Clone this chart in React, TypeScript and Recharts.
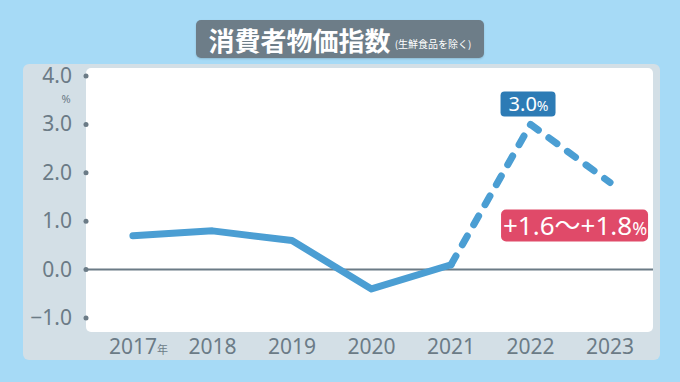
import { LineChart, Line, XAxis, YAxis, ReferenceLine, LabelList } from "recharts";

const years = [2017, 2018, 2019, 2020, 2021, 2022, 2023];
const actual = [0.7, 0.8, 0.6, -0.4, 0.1, null, null];
const forecast = [null, null, null, null, 0.1, 3.0, 1.8];
const pointLabels = ["", "", "", "", "", "3.0", "+1.6～+1.8"];
const yTicks = [-1, 0, 1, 2, 3, 4];

const data = years.map((year, i) => ({
  year,
  actual: actual[i],
  forecast: forecast[i],
  label: pointLabels[i],
}));

const FONT = '"Noto Sans", "Noto Sans CJK JP", sans-serif';
const GREY = "#6b7b86";
const LINE = "#4b9ed3";

const YTick = (props: any) => {
  const { x, y, payload } = props;
  const v = payload.value;
  const txt = v < 0 ? "\u2212" + Math.abs(v).toFixed(1) : v.toFixed(1);
  return (
    <g>
      <circle cx={x + 8} cy={y} r={2.5} fill={GREY} />
      <text x={x - 6} y={y + 7} textAnchor="end" fontSize={21} fill={GREY} fontFamily={FONT}>
        {txt}
      </text>
      {v === 4 && (
        <text x={x - 12} y={y + 27} textAnchor="middle" fontSize={11} fill={GREY} fontFamily={FONT}>
          %
        </text>
      )}
    </g>
  );
};

const XTick = (props: any) => {
  const { x, y, payload, index } = props;
  return (
    <g>
      <text x={x} y={y + 14} textAnchor="middle" fontSize={21} fill={GREY} fontFamily={FONT}>
        {payload.value}
      </text>
      {index === 0 && (
        <text x={x + 24} y={y + 14} fontSize={11} fill={GREY} fontFamily={FONT}>
          年
        </text>
      )}
    </g>
  );
};

const PointLabel = (props: any) => {
  const { x, y, value } = props;
  if (!value) return null;
  if (value === "3.0") {
    return (
      <g>
        <rect x={x - 30} y={y - 33} width={55} height={25} rx={4} fill="#2d7bb5" />
        <text x={x - 2} y={y - 13} textAnchor="middle" fill="#fff" fontFamily={FONT}>
          <tspan fontSize={20}>{value}</tspan>
          <tspan fontSize={14}>%</tspan>
        </text>
      </g>
    );
  }
  return (
    <g>
      <rect x={x - 109} y={y + 27} width={147} height={32} rx={5} fill="#e04a69" />
      <text x={x - 35} y={y + 53} textAnchor="middle" fill="#fff" fontFamily={FONT}>
        <tspan fontSize={26}>{value}</tspan>
        <tspan fontSize={18}>%</tspan>
      </text>
    </g>
  );
};

export default function App() {
  return (
    <div
      style={{
        position: "absolute",
        left: 0,
        top: 0,
        width: 680,
        height: 382,
        background: "#a6daf6",
        overflow: "hidden",
        fontFamily: FONT,
      }}
    >
      <div
        style={{
          position: "absolute",
          left: 196,
          top: 20,
          width: 288,
          height: 38,
          borderRadius: 5,
          background: "#6d7d88",
          boxShadow: "0 1px 2px rgba(0,0,0,0.15)",
          display: "flex",
          alignItems: "center",
          justifyContent: "center",
          color: "#fff",
        }}
      >
        <span style={{ fontSize: 26, fontWeight: 700, fontFamily: '"Noto Sans CJK JP", sans-serif' }}>
          消費者物価指数
        </span>
        <span style={{ fontSize: 10, marginLeft: 4, marginTop: 8, fontFamily: '"Noto Sans CJK JP", sans-serif' }}>
          (生鮮食品を除く)
        </span>
      </div>
      <div
        style={{
          position: "absolute",
          left: 23,
          top: 64,
          width: 637,
          height: 296,
          borderRadius: 6,
          background: "#d3dfe6",
        }}
      />
      <div
        style={{
          position: "absolute",
          left: 86,
          top: 68,
          width: 567,
          height: 264,
          borderRadius: 5,
          background: "#ffffff",
        }}
      />
      <div style={{ position: "absolute", left: 0, top: 0 }}>
        <LineChart
          width={680}
          height={382}
          data={data}
          margin={{ top: 68, right: 27, bottom: 20, left: 0 }}
        >
          <XAxis
            dataKey="year"
            type="number"
            domain={[2016.41, 2023.54]}
            ticks={years}
            axisLine={false}
            tickLine={false}
            height={30}
            tick={<XTick />}
            interval={0}
          />
          <YAxis
            type="number"
            domain={[-1.29, 4.165]}
            ticks={yTicks}
            allowDataOverflow
            axisLine={false}
            tickLine={false}
            width={86}
            tick={<YTick />}
            interval={0}
          />
          <ReferenceLine y={0} stroke={GREY} strokeWidth={2} />
          <Line
            dataKey="actual"
            stroke={LINE}
            strokeWidth={7}
            strokeLinecap="round"
            strokeLinejoin="round"
            dot={false}
            isAnimationActive={false}
          />
          <Line
            dataKey="forecast"
            stroke={LINE}
            strokeWidth={7}
            strokeLinecap="round"
            strokeLinejoin="round"
            strokeDasharray="10 13"
            dot={false}
            isAnimationActive={false}
          >
            <LabelList dataKey="label" content={<PointLabel />} />
          </Line>
        </LineChart>
      </div>
    </div>
  );
}
